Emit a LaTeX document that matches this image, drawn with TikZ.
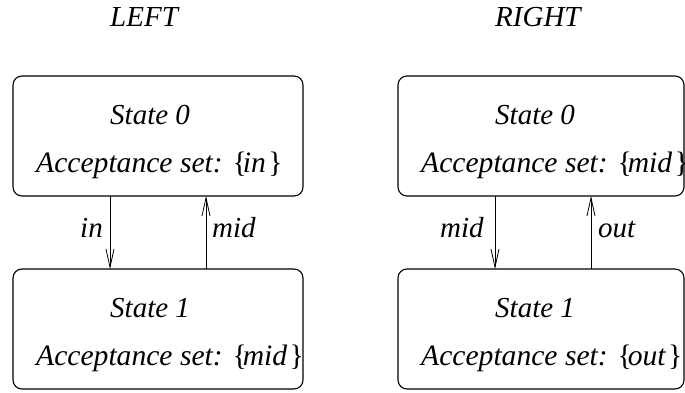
\documentclass[tikz,border=0pt]{standalone}
\usepackage{fontspec}
\setmainfont{Liberation Serif}
\usetikzlibrary{arrows.meta}
\newcommand{\accset}[1]{Acceptance set: \upshape\{\kern-4pt\itshape #1\hspace{2.5pt}\upshape\}}
\begin{document}
\begin{tikzpicture}[x=1pt,y=1pt,
  statebox/.style={draw, line width=1.1pt, rounded corners=9pt, inner sep=0pt, outer sep=0pt, minimum height=120pt},
  txt/.style={anchor=base west, inner sep=0pt, font=\fontsize{29}{35}\selectfont\itshape},
  acc/.style={txt, font=\fontsize{29.6}{35}\selectfont\itshape},
  arr/.style={line width=0.8pt, -{Straight Barb[length=18pt,width=8pt,line width=0.8pt]}}]
\useasboundingbox (0,0) rectangle (685,392);
% titles
\node[txt] (tl) at (110,365) {LEFT};
\node[txt] (tr) at (495,365) {RIGHT};
% boxes
\node[statebox, minimum width=290pt] (L0) at (158,256) {};
\node[statebox, minimum width=290pt] (L1) at (158,63) {};
\node[statebox, minimum width=286pt] (R0) at (541,256) {};
\node[statebox, minimum width=286pt] (R1) at (541,63) {};
% box texts
\node[txt] (L0a) at (110,268) {State 0};
\node[acc] (L0b) at (36,220) {\accset{in}};
\node[txt] (L1a) at (110,75) {State 1};
\node[acc] (L1b) at (36,27) {\accset{mid}};
\node[txt] (R0a) at (495,268) {State 0};
\node[acc] (R0b) at (421,220) {\accset{mid}};
\node[txt] (R1a) at (495,75) {State 1};
\node[acc] (R1b) at (421,27) {\accset{out}};
% connectors
\draw[arr] ([xshift=-48pt]L0.south) -- ([xshift=-48pt]L1.north);
\draw[arr] ([xshift=48pt]L1.north) -- ([xshift=48pt]L0.south);
\draw[arr] ([xshift=-46pt]R0.south) -- ([xshift=-46pt]R1.north);
\draw[arr] ([xshift=50pt]R1.north) -- ([xshift=50pt]R0.south);
% connector labels
\node[txt] (li) at (80,155) {in};
\node[txt] (lm) at (212,155) {mid};
\node[txt] (rm) at (440,155) {mid};
\node[txt] (ro) at (598,155) {out};
\end{tikzpicture}
\end{document}
